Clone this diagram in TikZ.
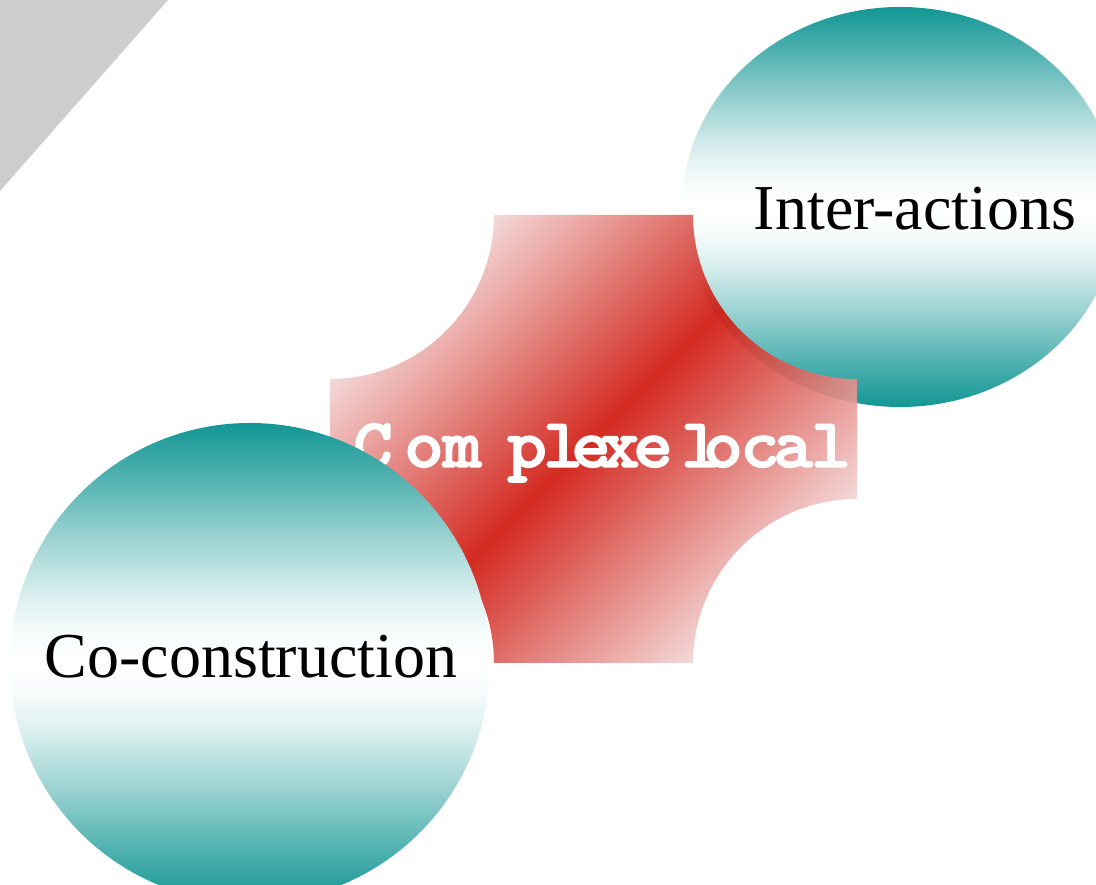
\documentclass[tikz,border=0pt]{standalone}
\usepackage{fontspec}
\setmainfont{Liberation Serif}
\newfontfamily\monofnt[FakeBold=2]{lmmonolt10-bold.otf}
\definecolor{tealc}{RGB}{18,150,148}
\definecolor{redc}{RGB}{208,20,10}
\definecolor{pinkc}{RGB}{244,222,222}
\definecolor{greyc}{RGB}{205,205,205}
\pgfdeclareverticalshading{tealband}{100bp}{color(0bp)=(tealc); color(25bp)=(tealc); color(31bp)=(tealc!72!white); color(37bp)=(tealc!42!white); color(43bp)=(tealc!15!white); color(47bp)=(tealc!3!white); color(50bp)=(white); color(53bp)=(tealc!3!white); color(57bp)=(tealc!15!white); color(63bp)=(tealc!42!white); color(69bp)=(tealc!72!white); color(75bp)=(tealc); color(100bp)=(tealc)}
\pgfdeclareverticalshading{redband}{100bp}{color(0bp)=(pinkc); color(30bp)=(pinkc); color(50bp)=(redc); color(70bp)=(pinkc); color(100bp)=(pinkc)}
\tikzset{
  bubble/.style={shading=tealband},
  label/.style={anchor=base, inner sep=0pt, text=black, font=\fontsize{64bp}{70bp}\selectfont},
  letter/.style={anchor=base, inner sep=0pt, text=white, xscale=1.08, font=\monofnt\fontsize{70bp}{70bp}\selectfont},
}
\begin{document}
\begin{tikzpicture}[x=1bp,y=1bp]
\useasboundingbox (0,0) rectangle (1096,885);
\clip (0,0) rectangle (1096,885);
\fill[white] (0,0) rectangle (1096,885);
% grey corner
\fill[greyc] (0,885) -- (168,885) -- (0,694) -- cycle;
% top-right bubble
\shade[bubble] (900,678) ellipse [x radius=218, y radius=200];
% red plaque
\begin{scope}[transparency group, opacity=0.9]
  \clip (494,670) -- (693,670) arc[start angle=180, end angle=270, radius=164]
        -- (857,386) arc[start angle=90, end angle=180, radius=164]
        -- (494,222) arc[start angle=0, end angle=90, radius=164]
        -- (330,506) arc[start angle=270, end angle=360, radius=164] -- cycle;
  \shade[shading=redband, shading angle=45] (293.5,146) rectangle (893.5,746);
\end{scope}
% central label, letters as printed
\foreach \ch/\xx [count=\i] in {C/373, o/424, m/462, p/527, l/563, e/591, x/620, e/653, l/701, o/723, c/760, a/793, l/831}
  \node[letter] (ch\i) at (\xx,418) {\ch};
% bottom-left bubble
\shade[bubble] (250,222) circle [radius=240];
% labels
\node[label] (coc) at (251,207) {Co-construction};
\node[label] (inter) at (915,655) {Inter-actions};
\end{tikzpicture}
\end{document}
